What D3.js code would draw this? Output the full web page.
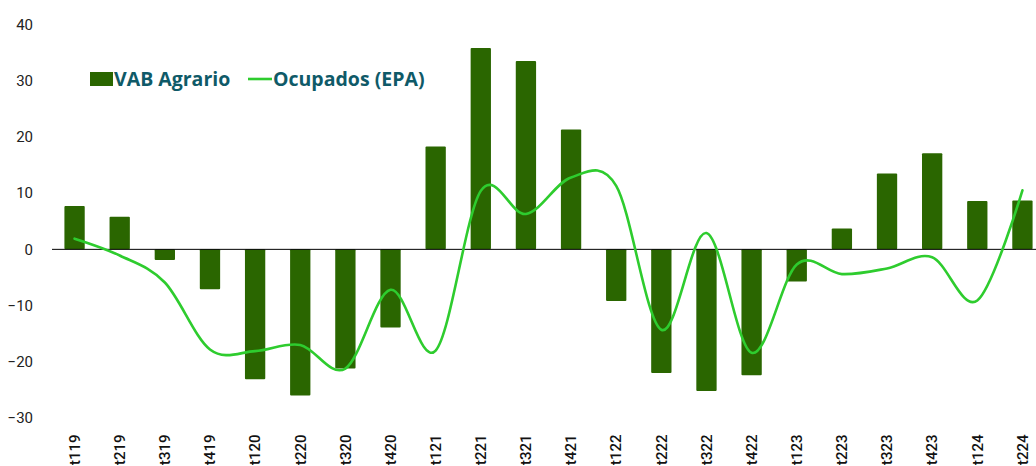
<!DOCTYPE html>
<html>
<head>
<meta charset="utf-8">
<script src="https://cdn.jsdelivr.net/npm/d3@7"></script>
<style>
  body { margin: 0; background: #fff; }
  svg { display: block; font-family: Roboto, "Noto Sans", sans-serif; }
</style>
</head>
<body>
<div id="chart"></div>
<script>
// quarters t<q><yy>
const quarters = ["t119","t219","t319","t419","t120","t220","t320","t420","t121","t221","t321","t421",
                  "t122","t222","t322","t422","t123","t223","t323","t423","t124","t224"];
const vabAgrario = [7.7, 5.8, -1.9, -7.1, -23.1, -26.0, -21.2, -13.9, 18.3, 35.8, 33.5, 21.3,
                    -9.2, -22.0, -25.2, -22.4, -5.7, 3.7, 13.5, 17.1, 8.6, 8.7];
const ocupadosEPA = [1.9, -1.1, -5.9, -17.8, -18.1, -17.0, -21.2, -7.2, -18.0, 10.4, 6.3, 12.8,
                     11.3, -14.3, 2.9, -18.4, -2.7, -4.4, -3.4, -1.4, -9.1, 10.5];
const yTicks = [-30, -20, -10, 0, 10, 20, 30, 40];
const seriesNames = ["VAB Agrario", "Ocupados (EPA)"];

const outerWidth = 1036, outerHeight = 466;
const barColor = "#2a6600", lineColor = "#2ecc2e", legendText = "#0f5a68";

const svg = d3.select("#chart").append("svg")
    .attr("width", outerWidth)
    .attr("height", outerHeight);

const xScale = d3.scaleBand()
    .domain(quarters)
    .range([52, 1045])
    .paddingInner(0.55)
    .paddingOuter(0.275);

const yScale = d3.scaleLinear()
    .domain([-30, 40])
    .range([418, 24.5]);

// y axis: labels only
const yAxis = d3.axisLeft(yScale).tickValues(yTicks).tickSize(0).tickPadding(0);
svg.append("g").attr("class", "axis y-axis")
    .attr("transform", "translate(33,0)")
    .call(yAxis)
    .call(g => g.select(".domain").remove())
    .call(g => g.selectAll("text")
        .attr("font-size", 15)
        .attr("font-family", "Roboto, sans-serif")
        .attr("fill", "#222"));

// bars
svg.append("g").selectAll("rect")
    .data(vabAgrario)
    .join("rect")
    .attr("x", (d, i) => xScale(quarters[i]))
    .attr("width", xScale.bandwidth())
    .attr("y", d => yScale(Math.max(0, d)))
    .attr("height", d => Math.abs(yScale(d) - yScale(0)))
    .attr("rx", 1)
    .attr("fill", barColor);

// zero line
svg.append("line")
    .attr("x1", 52).attr("x2", outerWidth)
    .attr("y1", yScale(0)).attr("y2", yScale(0))
    .attr("stroke", "#000").attr("stroke-width", 1);

// smoothed line
const line = d3.line()
    .x((d, i) => xScale(quarters[i]) + xScale.bandwidth() / 2)
    .y(d => yScale(d))
    .curve(d3.curveCatmullRom.alpha(0));

svg.append("path")
    .datum(ocupadosEPA)
    .attr("d", line)
    .attr("fill", "none")
    .attr("stroke", lineColor)
    .attr("stroke-width", 2.6)
    .attr("stroke-linecap", "round");

// x labels, rotated
const xAxis = d3.axisBottom(xScale).tickSize(0).tickPadding(0);
svg.append("g").attr("class", "axis x-axis")
    .attr("transform", "translate(0,430)")
    .call(xAxis)
    .call(g => g.select(".domain").remove())
    .call(g => g.selectAll("text")
        .attr("transform", "rotate(-90)")
        .attr("text-anchor", "start")
        .attr("x", -35)
        .attr("y", 0)
        .attr("dy", "0.35em")
        .attr("font-size", 15)
        .attr("font-weight", 500)
        .attr("font-family", "Roboto, sans-serif")
        .attr("fill", "#111"));

// legend
const legend = svg.append("g")
    .attr("font-family", "'Open Sans', sans-serif")
    .attr("font-weight", "bold").attr("font-size", 19.5).attr("fill", legendText);
legend.append("rect").attr("x", 90).attr("y", 72).attr("width", 23).attr("height", 14).attr("fill", barColor);
legend.append("text").attr("x", 114).attr("y", 86).text(seriesNames[0]);
legend.append("line").attr("x1", 248).attr("x2", 272).attr("y1", 79).attr("y2", 79)
    .attr("stroke", lineColor).attr("stroke-width", 2.6);
legend.append("text").attr("x", 273).attr("y", 86).text(seriesNames[1]);
</script>
</body>
</html>
